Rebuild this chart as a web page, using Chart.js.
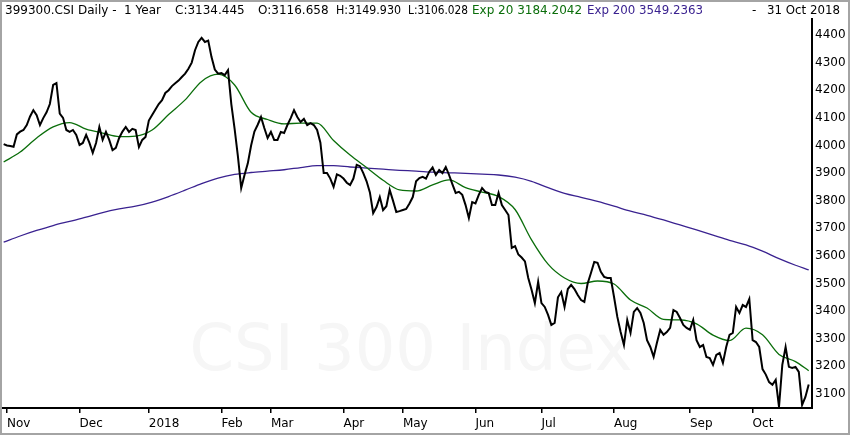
<!DOCTYPE html>
<html>
<head>
<meta charset="utf-8">
<script src="https://cdn.jsdelivr.net/npm/chart.js@4.4.0/dist/chart.umd.min.js"></script>
<style>
    html, body { margin: 0; padding: 0; background: #fff; }
    canvas { display: block; }
</style>
</head>
<body>
<canvas id="csiChart" width="850" height="435"></canvas>
<script>
// daily closes, index 0 = 31 Oct 2017 ... index 244 = 31 Oct 2018 (trading days)
const closeValues = [
    4005, 4000, 3998, 3995, 4040, 4050, 4056, 4074, 4105, 4128,
    4110, 4074, 4099, 4120, 4150, 4219, 4226, 4115, 4100, 4056,
    4049, 4056, 4038, 4002, 4009, 4038, 4009, 3973, 4009, 4067,
    4020, 4049, 4020, 3983, 3991, 4027, 4050, 4067, 4049, 4060,
    4056, 3994, 4020, 4031, 4090, 4110, 4130, 4150, 4164, 4190,
    4200, 4215, 4225, 4235, 4248, 4260, 4278, 4300, 4345, 4375,
    4390, 4375, 4380, 4320, 4275, 4260, 4262, 4255, 4273, 4150,
    4060, 3960, 3846, 3893, 3935, 4000, 4050, 4075, 4103, 4063,
    4027, 4049, 4020, 4020, 4049, 4045, 4074, 4099, 4128, 4103,
    4085, 4096, 4074, 4081, 4074, 4056, 4010, 3900, 3900, 3880,
    3850, 3895, 3890, 3880, 3865, 3857, 3880, 3930, 3925, 3900,
    3870, 3830, 3755, 3777, 3813, 3766, 3780, 3839, 3800, 3759,
    3762, 3766, 3770, 3790, 3813, 3870, 3882, 3886, 3880, 3905,
    3920, 3893, 3911, 3900, 3922, 3893, 3860, 3828, 3832, 3821,
    3784, 3737, 3795, 3790, 3821, 3846, 3832, 3828, 3784, 3784,
    3828, 3784, 3766, 3748, 3629, 3635, 3605, 3594, 3580, 3520,
    3477, 3429, 3506, 3429, 3415, 3386, 3350, 3357, 3450, 3469,
    3415, 3480, 3495, 3480, 3458, 3440, 3433, 3500, 3538, 3578,
    3575, 3542, 3524, 3520, 3520, 3451, 3379, 3324, 3277, 3368,
    3321, 3397, 3411, 3393, 3357, 3295, 3270, 3234, 3285, 3332,
    3314, 3324, 3339, 3404, 3397, 3375, 3350, 3339, 3332, 3368,
    3295, 3270, 3277, 3234, 3230, 3205, 3241, 3248, 3212, 3270,
    3314, 3321, 3415, 3393, 3422, 3415, 3444, 3295, 3288, 3270,
    3190, 3170, 3143, 3133, 3151, 3053, 3205, 3270, 3198, 3194,
    3198, 3180, 3060, 3089, 3134
];

// moving averages read every 5th trading day
const emaDays = [
    0, 5, 10, 15, 20, 25, 30, 35, 40, 45,
    50, 55, 60, 65, 70, 75, 80, 85, 90, 95,
    100, 105, 110, 115, 120, 125, 130, 135, 140, 145,
    150, 155, 160, 165, 170, 175, 180, 185, 190, 195,
    200, 205, 210, 215, 220, 225, 230, 235, 240, 244
];
const ema20Values = [
    3940, 3976, 4027, 4067, 4083, 4059, 4045, 4032, 4034, 4056,
    4112, 4165, 4232, 4258, 4219, 4120, 4094, 4078, 4081, 4081,
    4018, 3965, 3920, 3874, 3839, 3835, 3857, 3875, 3847, 3831,
    3815, 3768, 3658, 3570, 3520, 3500, 3509, 3498, 3440, 3411,
    3370, 3368, 3354, 3313, 3293, 3338, 3314, 3243, 3217, 3184
];
const ema200Values = [
    3650, 3672, 3692, 3710, 3725, 3740, 3757, 3770, 3780, 3795,
    3815, 3838, 3862, 3882, 3895, 3902, 3907, 3912, 3920, 3927,
    3927, 3922, 3918, 3914, 3910, 3907, 3903, 3901, 3899, 3896,
    3893, 3885, 3870, 3847, 3826, 3812, 3797, 3780, 3762, 3747,
    3730, 3712, 3694, 3675, 3656, 3640, 3617, 3590, 3566, 3549
];

const monthStarts = [1, 23, 44, 66, 81, 103, 121, 143, 163, 185, 208, 227];
const monthLabels = ['Nov', 'Dec', '2018', 'Feb', 'Mar', 'Apr', 'May', 'Jun', 'Jul', 'Aug', 'Sep', 'Oct'];
const priceTicks = [3100, 3200, 3300, 3400, 3500, 3600, 3700, 3800, 3900, 4000, 4100, 4200, 4300, 4400];

const FONT = 'DejaVu Sans';

const headerPlugin = {
    id: 'header',
    beforeDatasetsDraw(chart) {
        const ctx = chart.ctx;
        ctx.save();
        ctx.fillStyle = '#f6f6f6';
        ctx.font = '64px "' + FONT + '"';
        ctx.textAlign = 'center';
        ctx.textBaseline = 'alphabetic';
        ctx.fillText('CSI 300 Index', 411, 370, 467);
        ctx.restore();
    },
    afterDraw(chart) {
        const ctx = chart.ctx;
        const pieces = [
            ['399300.CSI Daily -  1 Year', 5, 158, '#000'],
            ['C:3134.445', 175, 70, '#000'],
            ['O:3116.658', 258, 71, '#000'],
            ['H:3149.930', 336, 65, '#000'],
            ['L:3106.028', 408, 60, '#000'],
            ['Exp 20 3184.2042', 472, 111, '#0b6e0b'],
            ['Exp 200 3549.2363', 587, 116, '#3a2290'],
            ['-', 752, 6, '#000'],
            ['31 Oct 2018', 767, 73, '#000']
        ];
        ctx.save();
        ctx.font = '12px "' + FONT + '"';
        ctx.textAlign = 'left';
        ctx.textBaseline = 'middle';
        pieces.forEach(([text, x, w, color]) => {
            ctx.fillStyle = color;
            ctx.fillText(text, x, 10.5, w);
        });
        ctx.strokeStyle = '#a4a4a4';
        ctx.lineWidth = 2;
        ctx.strokeRect(1, 1, 848, 433);
        ctx.restore();
    }
};

const ctx = document.getElementById('csiChart').getContext('2d');
new Chart(ctx, {
    type: 'line',
    data: {
        datasets: [{
            label: 'Close',
            data: closeValues.map((v, i) => ({x: i, y: v})),
            borderColor: '#000',
            borderWidth: 2,
            pointRadius: 0,
            tension: 0
        }, {
            label: 'Exp 20',
            data: emaDays.map((d, k) => ({x: d, y: ema20Values[k]})),
            borderColor: '#0b6e0b',
            borderWidth: 1.3,
            pointRadius: 0,
            cubicInterpolationMode: 'monotone'
        }, {
            label: 'Exp 200',
            data: emaDays.map((d, k) => ({x: d, y: ema200Values[k]})),
            borderColor: '#3a2290',
            borderWidth: 1.3,
            pointRadius: 0,
            cubicInterpolationMode: 'monotone'
        }]
    },
    options: {
        responsive: false,
        animation: false,
        layout: {
            padding: {left: 3, top: 19, right: 0, bottom: 0}
        },
        plugins: {
            legend: {display: false},
            tooltip: {enabled: false}
        },
        scales: {
            x: {
                type: 'linear',
                min: -0.2,
                max: 245,
                afterBuildTicks: scale => { scale.ticks = monthStarts.map(v => ({value: v})); },
                afterFit: scale => { scale.height = 27; },
                ticks: {
                    callback: (value, index) => monthLabels[index],
                    align: 'start',
                    padding: 4,
                    autoSkip: false,
                    maxRotation: 0,
                    color: '#000',
                    font: {family: FONT, size: 12}
                },
                grid: {
                    drawOnChartArea: false,
                    drawTicks: true,
                    tickLength: 5,
                    color: '#000',
                    lineWidth: 1.5
                },
                border: {display: true, color: '#000', width: 2}
            },
            y: {
                type: 'linear',
                position: 'right',
                min: 3049,
                max: 4458,
                afterBuildTicks: scale => { scale.ticks = priceTicks.map(v => ({value: v})); },
                afterFit: scale => { scale.width = 38; },
                ticks: {
                    callback: value => String(value),
                    padding: 3,
                    color: '#000',
                    font: {family: FONT, size: 12}
                },
                grid: {display: false, drawTicks: false},
                border: {display: true, color: '#000', width: 2}
            }
        }
    },
    plugins: [headerPlugin]
});
</script>
</body>
</html>
